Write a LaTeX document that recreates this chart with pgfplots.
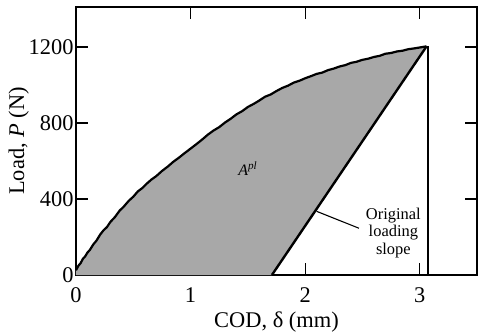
\documentclass[border=0pt]{standalone}
\usepackage{pgfplots}
\pgfplotsset{compat=1.18}
\usepackage{fontspec}
\setmainfont{Liberation Serif}
\definecolor{fillgray}{RGB}{168,168,168}
\begin{document}
\begin{tikzpicture}
\begin{axis}[
  name=ax,
  scale only axis,
  width=401bp, height=268bp,
  xmin=0, xmax=3.5, ymin=0, ymax=1410,
  xtick={0,1,2,3}, ytick={0,400,800,1200},
  tick align=inside,
  major tick length=12bp,
  axis line style={line width=1.2pt},
  tick style={line width=1.2pt, black},
  /pgf/number format/assume math mode=true,
  /pgf/number format/1000 sep={},
  tick label style={font=\fontsize{22.5}{26}\selectfont},
  xticklabel style={yshift=-9bp},
  yticklabel style={xshift=1bp},
  label style={font=\fontsize{22.5}{26}\selectfont},
  xlabel style={yshift=-2bp},
  ylabel shift=-7bp,
  xlabel={COD, δ (mm)},
  ylabel={Load, \textit{P} (N)},
  clip=false,
]
\addplot[fill=fillgray, draw=none] coordinates {
(0,0) (0.00,25) (0.02,48) (0.04,62) (0.06,85) (0.08,98) (0.10,118) (0.12,131) (0.15,160) (0.18,182) (0.21,212) (0.24,235) (0.27,252) (0.30,279) (0.34,305) (0.38,338) (0.42,362) (0.46,390) (0.50,412) (0.54,440) (0.58,458) (0.62,482) (0.66,503) (0.70,520) (0.75,547) (0.80,570) (0.85,596) (0.90,618) (0.95,642) (1.00,665) (1.05,688) (1.10,712) (1.15,738) (1.20,760) (1.25,778) (1.30,802) (1.35,822) (1.40,845) (1.45,862) (1.50,884) (1.55,900) (1.60,918) (1.65,938) (1.70,950) (1.75,968) (1.80,984) (1.85,996) (1.90,1012) (1.95,1022) (2.00,1035) (2.05,1046) (2.10,1058) (2.15,1065) (2.20,1078) (2.25,1086) (2.30,1097) (2.35,1104) (2.40,1116) (2.45,1122) (2.50,1132) (2.55,1138) (2.60,1147) (2.65,1153) (2.70,1164) (2.75,1168) (2.80,1176) (2.85,1180) (2.90,1188) (2.95,1192) (3.00,1197) (3.06,1203) (1.71,0) (0,0)
};
\addplot[black, line width=2.2pt, line join=round] coordinates {
(0.00,25) (0.02,48) (0.04,62) (0.06,85) (0.08,98) (0.10,118) (0.12,131) (0.15,160) (0.18,182) (0.21,212) (0.24,235) (0.27,252) (0.30,279) (0.34,305) (0.38,338) (0.42,362) (0.46,390) (0.50,412) (0.54,440) (0.58,458) (0.62,482) (0.66,503) (0.70,520) (0.75,547) (0.80,570) (0.85,596) (0.90,618) (0.95,642) (1.00,665) (1.05,688) (1.10,712) (1.15,738) (1.20,760) (1.25,778) (1.30,802) (1.35,822) (1.40,845) (1.45,862) (1.50,884) (1.55,900) (1.60,918) (1.65,938) (1.70,950) (1.75,968) (1.80,984) (1.85,996) (1.90,1012) (1.95,1022) (2.00,1035) (2.05,1046) (2.10,1058) (2.15,1065) (2.20,1078) (2.25,1086) (2.30,1097) (2.35,1104) (2.40,1116) (2.45,1122) (2.50,1132) (2.55,1138) (2.60,1147) (2.65,1153) (2.70,1164) (2.75,1168) (2.80,1176) (2.85,1180) (2.90,1188) (2.95,1192) (3.00,1197) (3.06,1203)
};
\addplot[black, line width=2.4pt] coordinates {(1.71,0) (3.06,1203)};
\addplot[black, line width=1.6pt] coordinates {(3.07,1203) (3.07,0)};
\addplot[black, line width=1.1pt] coordinates {(2.10,335) (2.47,246)};
\node[font=\fontsize{16.5}{17.5}\selectfont, align=center, inner sep=1pt] at (axis cs:2.77,221) {Original\\loading\\slope};
\node[font=\fontsize{16}{18}\selectfont] at (axis cs:1.5,560) {\textit{A}\textsuperscript{\textit{pl}}};
\end{axis}
\pgfresetboundingbox
\path[use as bounding box] ([xshift=-76bp,yshift=-59bp]ax.south west) rectangle ([xshift=1bp,yshift=7bp]ax.north east);
\end{tikzpicture}
\end{document}
